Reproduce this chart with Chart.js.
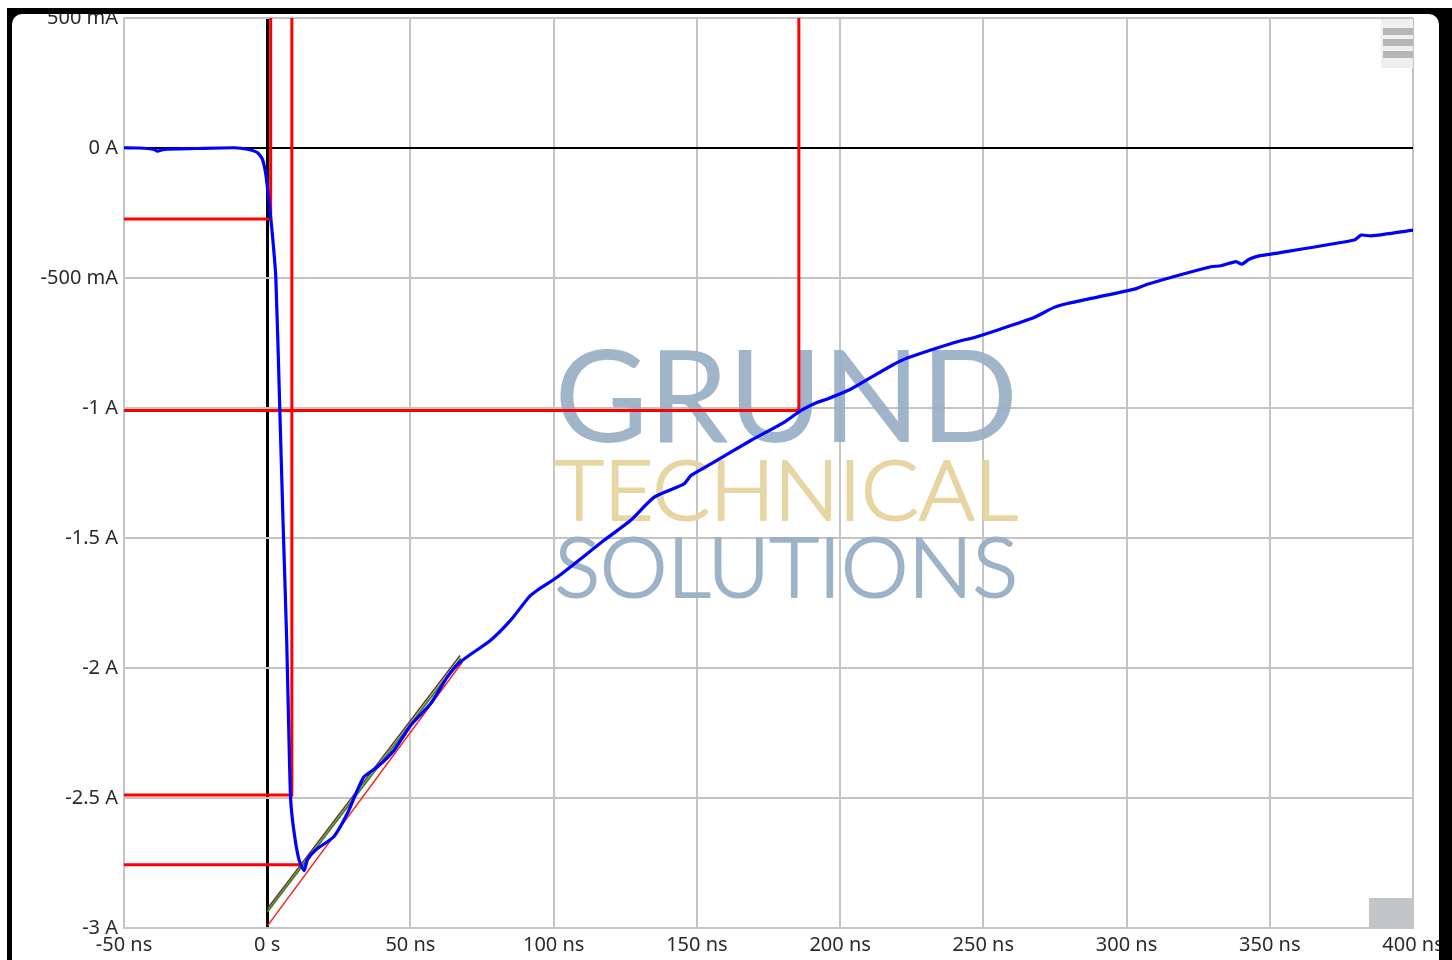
<!DOCTYPE html>
<html>
<head>
<meta charset="utf-8">
<title>Current pulse</title>
<script src="https://cdn.jsdelivr.net/npm/chart.js@4.4.1/dist/chart.umd.min.js"></script>
<style>
  html, body { margin: 0; padding: 0; background: #fff; overflow: hidden; }
  #frame { position: absolute; left: 7px; top: 8px; width: 1445px; height: 960px; background: #000; }
  #panel { position: absolute; left: 5px; top: 6px; width: 1427px; height: 960px; background: #fff; border-radius: 10px 10px 0 0; overflow: hidden; }
  #grafico { position: absolute; left: 0; top: 0; }
</style>
</head>
<body>
<div id="frame"><div id="panel"><canvas id="grafico" width="1427" height="946"></canvas></div></div>
<script>
// measured trace (time in ns, current in A)
const tiempoNs = [-50, -45, -39.5, -38.4, -36, -25, -11.6, -6.9, -3.4, -1.7, -0.5, 0.6, 1.8, 3.0, 4.3, 5.5,
  6.8, 7.6, 8.2, 9.4, 11.1, 12.9, 14.0, 16.9, 23.3, 28, 31.5, 33.8, 38.5, 44.3, 50.1, 57.1, 62.9, 67.6,
  78, 85, 91.4, 94.3, 101.3, 117.6, 126.9, 135.1, 145.5, 147.9, 154.9, 168.8, 180.4, 186.3, 192.1, 195.6,
  203.8, 221.2, 242.1, 245.6, 256.1, 267.7, 274.7, 279.4, 302.7, 307.3, 329.4, 332.9, 338.2, 340.2, 342.8,
  346.3, 350.4, 379.5, 381.9, 385.4, 400.2];
const corrienteA = [0.001, 0, -0.005, -0.012, -0.005, -0.002, 0.001, -0.005, -0.018, -0.043, -0.101, -0.204, -0.332, -0.498, -0.97, -1.43,
  -1.893, -2.277, -2.508, -2.634, -2.738, -2.779, -2.738, -2.70, -2.648, -2.559, -2.469, -2.418, -2.38, -2.316, -2.22, -2.136, -2.034, -1.975,
  -1.893, -1.816, -1.727, -1.701, -1.65, -1.509, -1.432, -1.343, -1.292, -1.26, -1.215, -1.125, -1.055, -1.01, -0.978, -0.965,
  -0.927, -0.818, -0.741, -0.733, -0.696, -0.652, -0.613, -0.598, -0.543, -0.524, -0.457, -0.453, -0.437, -0.447, -0.428,
  -0.415, -0.408, -0.354, -0.335, -0.338, -0.316];

// cursors: [t, I] pairs
const cursor1 = [[-50, -0.273], [1.2, -0.273], [1.2, 0.5]];
const cursor2 = [[-50, -2.488], [8.6, -2.488], [8.6, 0.5]];
const cursor3 = [[-50, -1.01], [185.6, -1.01], [185.6, 0.5]];
const cursor4 = [[-50, -2.757], [11.5, -2.757]];

// fitted slope lines
const ajusteVerde = [[0.1, -2.937], [67.6, -1.962]];
const ajusteOscuro = [[0.1, -2.925], [67.3, -1.952]];
const ajusteRojo = [[0.2, -2.99], [68.2, -1.976]];

const xTicks = [-50, 0, 50, 100, 150, 200, 250, 300, 350, 400];
const xTickLabels = ["-50 ns", "0 s", "50 ns", "100 ns", "150 ns", "200 ns", "250 ns", "300 ns", "350 ns", "400 ns"];
const yTicks = [-3, -2.5, -2, -1.5, -1, -0.5, 0, 0.5];
const yTickLabels = ["-3 A", "-2.5 A", "-2 A", "-1.5 A", "-1 A", "-500 mA", "0 A", "500 mA"];

const marcaAgua = ["GRUND", "TECHNICAL", "SOLUTIONS"];

function aPuntos(pares) {
    return pares.map(p => ({ x: p[0], y: p[1] }));
}

const watermarkPlugin = {
    id: 'watermark',
    beforeDatasetsDraw(chart) {
        const { ctx, chartArea: a } = chart;
        const w = a.right - a.left, h = a.bottom - a.top;
        const left = a.left + w * 0.334, right = a.left + w * 0.6936;
        const filas = [
            { text: marcaAgua[0], base: 0.466, cap: 92, weight: 400, stroke: 0, color: '#98afc4' },
            { text: marcaAgua[1], base: 0.5516, cap: 60, weight: 300, stroke: 2.2, color: '#e6d49e' },
            { text: marcaAgua[2], base: 0.636, cap: 60, weight: 300, stroke: 2.2, color: '#98afc4' }
        ];
        ctx.save();
        ctx.globalAlpha = 0.92;
        filas.forEach(f => {
            const size = f.cap / 0.72;
            ctx.font = `${f.weight} ${size}px Lato`;
            ctx.fillStyle = f.color;
            ctx.strokeStyle = f.color;
            ctx.textBaseline = 'alphabetic';
            const m = ctx.measureText(f.text);
            const sx = (right - left) / m.width;
            ctx.save();
            ctx.translate(left, a.top + h * f.base);
            ctx.scale(sx, 1);
            ctx.fillText(f.text, 0, 0);
            if (f.stroke) {
                ctx.lineWidth = f.stroke;
                ctx.lineJoin = 'round';
                ctx.strokeText(f.text, 0, 0);
            }
            ctx.restore();
        });
        ctx.restore();
    },
    afterDraw(chart) {
        const { ctx, chartArea: a } = chart;
        ctx.save();
        // menu button
        ctx.fillStyle = '#efefef';
        ctx.fillRect(a.right - 32, a.top + 1, 32, 49);
        ctx.fillStyle = '#b6b6b6';
        ctx.fillRect(a.right - 30, a.top + 10, 30, 7);
        ctx.fillRect(a.right - 30, a.top + 21, 30, 7);
        ctx.fillRect(a.right - 30, a.top + 33, 30, 7);
        // corner box
        ctx.fillStyle = '#c3c5c7';
        ctx.fillRect(a.right - 44, a.bottom - 30, 44, 30);
        ctx.restore();
    }
};

function lineaCursor(pares, color, ancho, orden) {
    return {
        data: aPuntos(pares),
        borderColor: color,
        borderWidth: ancho,
        pointRadius: 0,
        fill: false,
        tension: 0,
        order: orden
    };
}

const ctx = document.getElementById("grafico").getContext("2d");
new Chart(ctx, {
    type: 'line',
    data: {
        datasets: [
            {
                label: 'Corriente',
                data: tiempoNs.map((t, i) => ({ x: t, y: corrienteA[i] })),
                borderColor: '#0000ff',
                borderWidth: 3.2,
                pointRadius: 0,
                fill: false,
                tension: 0.2,
                order: 0
            },
            lineaCursor(ajusteOscuro, '#6b3a1e', 1.5, 1),
            lineaCursor(ajusteVerde, '#3e8a2c', 2, 1),
            lineaCursor(ajusteRojo, '#ff2020', 1.5, 1),
            lineaCursor(cursor1, '#ff0000', 3, 2),
            lineaCursor(cursor2, '#ff0000', 3, 2),
            lineaCursor(cursor3, '#ff0000', 3, 2),
            lineaCursor(cursor4, '#ff0000', 3, 2)
        ]
    },
    options: {
        responsive: false,
        animation: false,
        events: [],
        layout: { padding: { top: 4, right: 26, left: 0, bottom: 0 } },
        plugins: {
            legend: { display: false },
            tooltip: { enabled: false }
        },
        scales: {
            x: {
                type: 'linear',
                min: -50,
                max: 400,
                afterBuildTicks: s => { s.ticks = xTicks.map(v => ({ value: v })); },
                afterFit: s => { s.height = 32; s.paddingLeft = 0; s.paddingRight = 0; },
                grid: {
                    color: c => c.tick && c.tick.value === 0 ? '#000000' : '#c4c4c4',
                    lineWidth: c => c.tick && c.tick.value === 0 ? 3 : 2,
                    drawTicks: false
                },
                border: { color: '#c4c4c4', width: 2 },
                ticks: {
                    padding: 5,
                    maxRotation: 0,
                    autoSkip: false,
                    color: '#2a2a2a',
                    font: { family: 'Noto Sans', size: 20 },
                    callback: (v) => xTickLabels[xTicks.indexOf(v)]
                }
            },
            y: {
                type: 'linear',
                min: -3,
                max: 0.5,
                afterBuildTicks: s => { s.ticks = yTicks.map(v => ({ value: v })); },
                afterFit: s => { s.width = 112; s.paddingTop = 0; s.paddingBottom = 0; },
                grid: {
                    color: c => c.tick && c.tick.value === 0 ? '#000000' : '#c4c4c4',
                    lineWidth: 2,
                    drawTicks: false
                },
                border: { color: '#c4c4c4', width: 2 },
                ticks: {
                    padding: 6,
                    autoSkip: false,
                    color: '#2a2a2a',
                    font: { family: 'Noto Sans', size: 20 },
                    callback: (v) => yTickLabels[yTicks.indexOf(v)]
                }
            }
        }
    },
    plugins: [watermarkPlugin]
});
</script>
</body>
</html>
